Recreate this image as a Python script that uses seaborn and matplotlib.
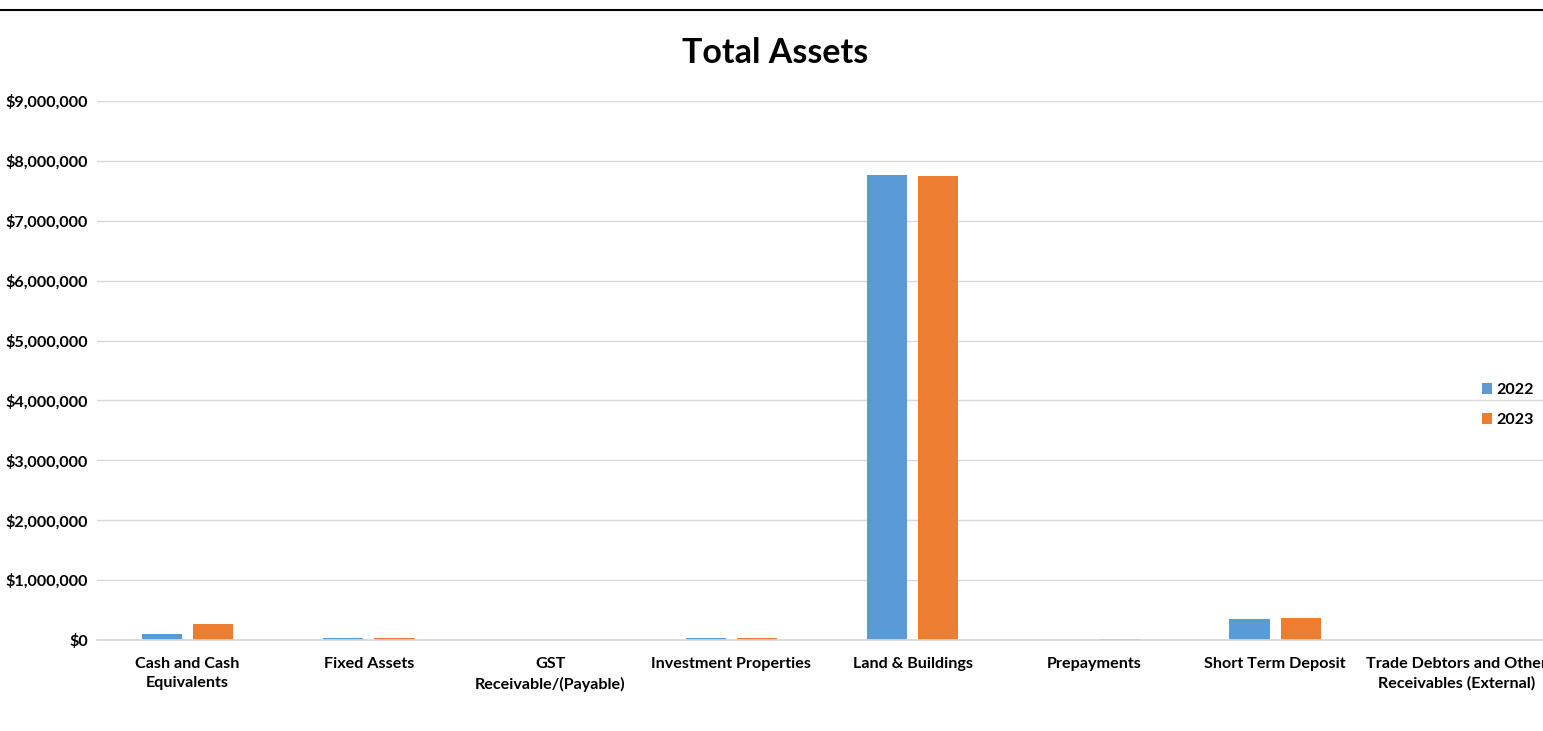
import pandas as pd
import matplotlib.pyplot as plt
import matplotlib.lines as mlines
from matplotlib.ticker import FuncFormatter
import seaborn as sns

# Values
categories = ["Cash and Cash\nEquivalents", "Fixed Assets", "GST\nReceivable/(Payable)",
              "Investment Properties", "Land & Buildings", "Prepayments",
              "Short Term Deposit", "Trade Debtors and Other\nReceivables (External)"]
assets_2022 = [100000, 30000, 4000, 40000, 7760000, 3000, 350000, 4000]
assets_2023 = [270000, 30000, 5000, 40000, 7750000, 15000, 370000, 5000]
years = ["2022", "2023"]

df = pd.DataFrame({
    "category": categories * 2,
    "year": [years[0]] * len(categories) + [years[1]] * len(categories),
    "value": assets_2022 + assets_2023,
})

sns.set_theme(style="white")
plt.rcParams['font.family'] = ['Lato', 'DejaVu Sans']
plt.rcParams['font.weight'] = 'bold'
plt.rcParams['text.color'] = 'black'

fig = plt.figure(figsize=(15.43, 7.31), dpi=100)
ax = fig.add_axes([97 / 1543, 1 - 640 / 731, (1547 - 97) / 1543, (640 - 101) / 731])

sns.barplot(data=df, x="category", y="value", hue="year", order=categories,
            palette=["#5B9BD5", "#ED7D31"], saturation=1, width=0.566, gap=0.215,
            linewidth=0, ax=ax)

ax.set_ylim(0, 9000000)
ax.set_xlim(-0.5, 7.5)
ax.set_yticks(range(0, 9000001, 1000000))
ax.yaxis.set_major_formatter(FuncFormatter(lambda v, p: "${:,.0f}".format(v)))
ax.grid(axis="y", color="#D9D9D9", linewidth=1)
ax.set_axisbelow(True)
for s in ["top", "right", "left"]:
    ax.spines[s].set_visible(False)
ax.spines["bottom"].set_color("#D9D9D9")
ax.tick_params(axis="both", length=0, labelsize=11.6, colors="black")
ax.tick_params(axis="x", pad=12.5)
ax.tick_params(axis="y", pad=6.5)
for lab in ax.get_xticklabels() + ax.get_yticklabels():
    lab.set_fontweight("bold")
for lab in ax.get_xticklabels():
    lab.set_linespacing(1.45)
ax.set_xlabel("")
ax.set_ylabel("")

ax.legend(loc="center left", bbox_to_anchor=(1467 / 1543, 1 - 405 / 731),
          bbox_transform=fig.transFigure, frameon=False, title=None,
          handlelength=0.65, handleheight=0.65, handletextpad=0.25,
          labelspacing=1.0, prop={"weight": "bold", "size": 11.6})

fig.text(775 / 1543, 1 - 53 / 731, "Total Assets", ha="center", va="center",
         fontsize=24.5, fontweight="bold", color="black")

fig.add_artist(mlines.Line2D([0, 1], [1 - 10 / 731, 1 - 10 / 731], color="black",
                             linewidth=1.5, transform=fig.transFigure))

fig.savefig("out.png", dpi=100)
